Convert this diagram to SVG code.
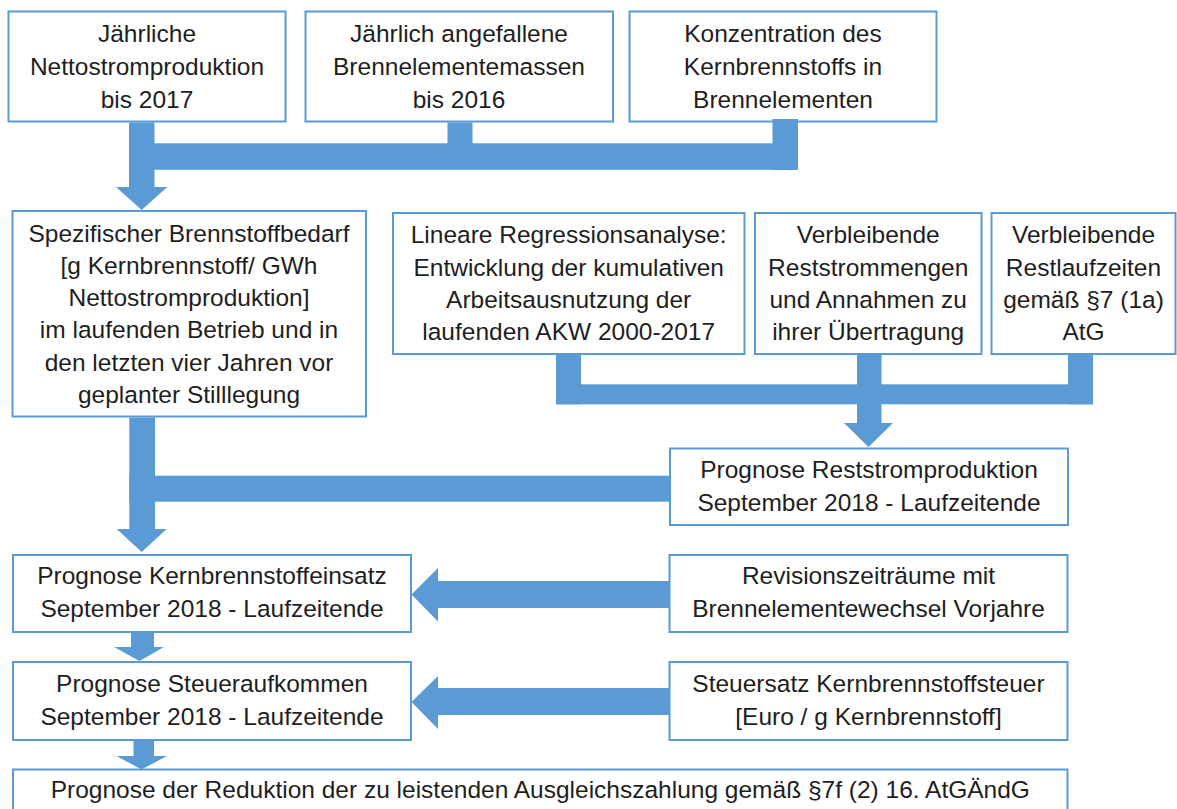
<svg xmlns="http://www.w3.org/2000/svg" width="1177" height="809" viewBox="0 0 1177 809">
<style>
.box{fill:#ffffff;stroke:#5B9BD5;stroke-width:2}
.t{font-family:"Liberation Sans",Arial,sans-serif;font-size:24.5px;fill:#1e1e1e;text-anchor:middle}
.c{fill:#5B9BD5;stroke:none}
</style>
<rect x="0" y="0" width="1177" height="809" fill="#ffffff"/>
<g id="n1">
<rect class="box" x="8.5" y="11.5" width="277" height="110"/>
<text class="t" x="147" y="42">Jährliche</text>
<text class="t" x="147" y="75">Nettostromproduktion</text>
<text class="t" x="147" y="108">bis 2017</text>
</g>
<g id="n2">
<rect class="box" x="305.5" y="11.5" width="307.5" height="110"/>
<text class="t" x="459" y="42">Jährlich angefallene</text>
<text class="t" x="459" y="75">Brennelementemassen</text>
<text class="t" x="459" y="108">bis 2016</text>
</g>
<g id="n3">
<rect class="box" x="629.5" y="11.5" width="307" height="110"/>
<text class="t" x="783" y="42">Konzentration des</text>
<text class="t" x="783" y="75">Kernbrennstoffs in</text>
<text class="t" x="783" y="108">Brennelementen</text>
</g>
<g id="n4">
<rect class="box" x="12.5" y="211" width="353.5" height="205.5"/>
<text class="t" x="189" y="241.5">Spezifischer Brennstoffbedarf</text>
<text class="t" x="189" y="273.8">[g Kernbrennstoff/ GWh</text>
<text class="t" x="189" y="306">Nettostromproduktion]</text>
<text class="t" x="189" y="338.3">im laufenden Betrieb und in</text>
<text class="t" x="189" y="370.5">den letzten vier Jahren vor</text>
<text class="t" x="189" y="402.8">geplanter Stilllegung</text>
</g>
<g id="n5">
<rect class="box" x="393" y="213" width="351.5" height="141"/>
<text class="t" x="568.7" y="243.3">Lineare Regressionsanalyse:</text>
<text class="t" x="568.7" y="275.5">Entwicklung der kumulativen</text>
<text class="t" x="568.7" y="307.7">Arbeitsausnutzung der</text>
<text class="t" x="568.7" y="339.9">laufenden AKW 2000-2017</text>
</g>
<g id="n6">
<rect class="box" x="755" y="213" width="226.5" height="141"/>
<text class="t" x="868.2" y="243.3">Verbleibende</text>
<text class="t" x="868.2" y="275.5">Reststrommengen</text>
<text class="t" x="868.2" y="307.7">und Annahmen zu</text>
<text class="t" x="868.2" y="339.9">ihrer Übertragung</text>
</g>
<g id="n7">
<rect class="box" x="991.5" y="213" width="184" height="141"/>
<text class="t" x="1083.5" y="243.3">Verbleibende</text>
<text class="t" x="1083.5" y="275.5">Restlaufzeiten</text>
<text class="t" x="1083.5" y="307.7">gemäß §7 (1a)</text>
<text class="t" x="1083.5" y="339.9">AtG</text>
</g>
<g id="n8">
<rect class="box" x="670" y="448.5" width="398" height="76.5"/>
<text class="t" x="869" y="478.3">Prognose Reststromproduktion</text>
<text class="t" x="869" y="510.5">September 2018 - Laufzeitende</text>
</g>
<g id="n9">
<rect class="box" x="13" y="555" width="398" height="77"/>
<text class="t" x="212" y="584">Prognose Kernbrennstoffeinsatz</text>
<text class="t" x="212" y="616.5">September 2018 - Laufzeitende</text>
</g>
<g id="n10">
<rect class="box" x="669.5" y="555" width="398" height="77"/>
<text class="t" x="868.5" y="584">Revisionszeiträume mit</text>
<text class="t" x="868.5" y="616.5">Brennelementewechsel Vorjahre</text>
</g>
<g id="n11">
<rect class="box" x="13" y="662" width="398" height="78"/>
<text class="t" x="212" y="692">Prognose Steueraufkommen</text>
<text class="t" x="212" y="724.5">September 2018 - Laufzeitende</text>
</g>
<g id="n12">
<rect class="box" x="669.5" y="662" width="398" height="78"/>
<text class="t" x="868.5" y="692">Steuersatz Kernbrennstoffsteuer</text>
<text class="t" x="868.5" y="724.5">[Euro / g Kernbrennstoff]</text>
</g>
<g id="n13">
<rect class="box" x="13" y="769.5" width="1054.5" height="70"/>
<text class="t" x="540.3" y="798">Prognose der Reduktion der zu leistenden Ausgleichszahlung gemäß §7f (2) 16. AtGÄndG</text>
</g>
<g id="connectors">
<rect class="c" x="129" y="122.5" width="25.5" height="65"/>
<polygon class="c" points="116,187 167.3,187 141.7,210"/>
<rect class="c" x="129" y="143.3" width="669" height="26.5"/>
<rect class="c" x="447.5" y="122.5" width="25" height="22"/>
<rect class="c" x="772.5" y="119" width="25.5" height="51"/>
<rect class="c" x="556" y="355" width="25" height="49.3"/>
<rect class="c" x="857" y="355" width="24.5" height="68"/>
<rect class="c" x="1068" y="355" width="25" height="49.3"/>
<rect class="c" x="556" y="384.3" width="537" height="20"/>
<polygon class="c" points="844,423 893,423 868.5,447"/>
<rect class="c" x="129.3" y="417.5" width="25.7" height="112"/>
<rect class="c" x="129.3" y="475.7" width="540.7" height="26"/>
<polygon class="c" points="116.7,529 166.7,529 141.7,552"/>
<rect class="c" x="131" y="632.5" width="23" height="15"/>
<polygon class="c" points="114,647 164,647 139.5,661"/>
<rect class="c" x="133.5" y="740.5" width="20.5" height="16"/>
<polygon class="c" points="116.5,756 167,756 141.5,769.5"/>
<rect class="c" x="437.5" y="581" width="232" height="27"/>
<polygon class="c" points="438,568 438,621.5 411.5,594.5"/>
<rect class="c" x="437.5" y="688" width="232" height="27"/>
<polygon class="c" points="438,676 438,729 411.5,702"/>
</g>
</svg>
